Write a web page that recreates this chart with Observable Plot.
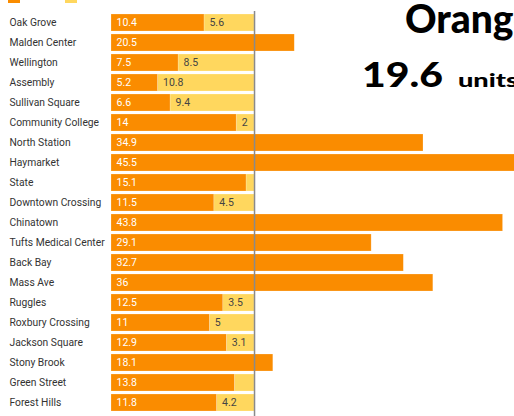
<!DOCTYPE html>
<html>
<head>
<meta charset="utf-8">
<script src="https://cdn.jsdelivr.net/npm/d3@7"></script>
<script src="https://cdn.jsdelivr.net/npm/@observablehq/plot@0.6"></script>
<style>
  html, body { margin: 0; padding: 0; background: #fff; overflow: hidden; }
  #wrap { position: relative; width: 514px; height: 416px; overflow: hidden; }
  #overlay { position: absolute; left: 0; top: 0; pointer-events: none; }
</style>
</head>
<body>
<div id="wrap">
  <div id="chart"></div>
  <svg id="overlay" width="514" height="416">
    <rect x="8" y="-2" width="12" height="5" fill="#FA8C00"></rect>
    <rect x="65" y="-2" width="12" height="5" fill="#FFD75E"></rect>
    <text x="405" y="33" font-family="Lato" font-weight="900" font-size="39" fill="#000">Orange</text>
    <text x="362" y="87" font-family="Lato" font-weight="900" font-size="35" fill="#000" textLength="81" lengthAdjust="spacingAndGlyphs">19.6</text>
    <text x="458" y="87" font-family="Lato" font-weight="900" font-size="19" fill="#000" textLength="60" lengthAdjust="spacingAndGlyphs">units</text>
  </svg>
</div>
<script>
const stations = ["Oak Grove","Malden Center","Wellington","Assembly","Sullivan Square","Community College","North Station","Haymarket","State","Downtown Crossing","Chinatown","Tufts Medical Center","Back Bay","Mass Ave","Ruggles","Roxbury Crossing","Jackson Square","Stony Brook","Green Street","Forest Hills"];
const values = [10.4,20.5,7.5,5.2,6.6,14,34.9,45.5,15.1,11.5,43.8,29.1,32.7,36,12.5,11,12.9,18.1,13.8,11.8];
const gaps = [5.6,0,8.5,10.8,9.4,2,0,0,0.9,4.5,0,0,0,0,3.5,5,3.1,0,2.2,4.2];
const gapLabels = ["5.6","","8.5","10.8","9.4","2","","","","4.5","","","","","3.5","5","3.1","","","4.2"];
const target = 16;

const data = stations.map((s, i) => ({station: s, value: values[i], gap: gaps[i], end: values[i] + gaps[i], gapLabel: gapLabels[i]}));

const chart = Plot.plot({
  width: 514,
  height: 416,
  marginLeft: 111,
  marginRight: 0,
  marginTop: 11,
  marginBottom: 0,
  style: {fontFamily: "Roboto", fontSize: "10.5px", background: "#fff", overflow: "hidden"},
  x: {domain: [0, 45.08], axis: null},
  y: {domain: stations, range: [8.15, 416.85], padding: 0.175, axis: null},
  marks: [
    Plot.barX(data.filter(d => d.gap > 0), {x1: "value", x2: "end", y: "station", fill: "#FFD75E", stroke: "#fff", strokeOpacity: 0.35, strokeWidth: 0.6}),
    Plot.barX(data, {x1: 0, x2: "value", y: "station", fill: "#FA8C00", stroke: "#fff", strokeOpacity: 0.35, strokeWidth: 0.6}),
    Plot.ruleX([target], {stroke: "#8a8a8a", strokeWidth: 1.5}),
    Plot.text(data, {x: 0, y: "station", text: d => String(d.value), dx: 5, textAnchor: "start", fill: "#fff"}),
    Plot.text(data.filter(d => d.gapLabel), {x: "value", y: "station", text: "gapLabel", dx: 5, textAnchor: "start", fill: "#444"}),
    Plot.text(data, {y: "station", text: "station", frameAnchor: "left", dx: -102, textAnchor: "start", fill: "#333", fontSize: 10.3})
  ]
});
document.getElementById("chart").appendChild(chart);
</script>
</body>
</html>
